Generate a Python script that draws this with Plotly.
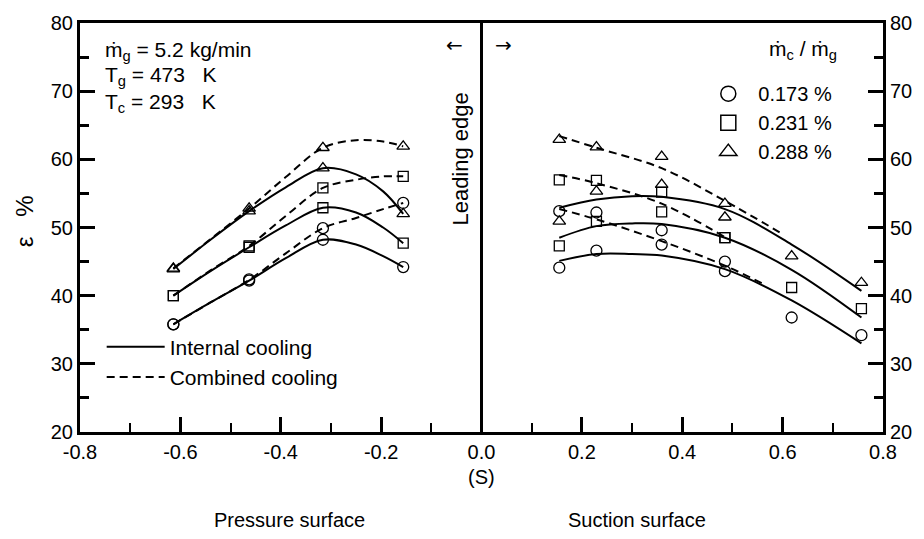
import plotly.graph_objects as go

# ---------------- data ----------------
# measured points, pressure surface
s_pres = [-0.614, -0.463, -0.316, -0.156]
int_p_173 = [35.8, 42.2, 48.2, 44.2]
int_p_231 = [40.0, 47.1, 52.9, 47.7]
int_p_288 = [43.9, 52.4, 58.7, 52.0]
com_p_173 = [35.8, 42.4, 49.9, 53.6]
com_p_231 = [40.0, 47.3, 55.8, 57.5]
com_p_288 = [44.0, 52.8, 61.7, 61.9]

# measured points, suction surface
s_suc = [0.155, 0.229, 0.359, 0.485, 0.618, 0.757]
int_s_173 = [44.1, 46.6, 47.5, 43.6, 36.8, 34.2]
int_s_231 = [47.3, 50.9, 52.3, 48.5, 41.2, 38.1]
int_s_288 = [50.9, 55.3, 56.3, 51.5, 45.8, 41.9]
s_suc_com = [0.155, 0.229, 0.359, 0.485]
com_s_173 = [52.4, 52.2, 49.6, 45.0]
com_s_231 = [57.0, 56.9, 55.2, 48.5]
com_s_288 = [62.9, 61.8, 60.4, 53.5]

# fitted curves, pressure surface
cs_pres = [-0.614, -0.54, -0.463, -0.39, -0.316, -0.25, -0.196, -0.156]
cur_int_p_173 = [35.8, 39.0, 42.2, 45.5, 48.2, 47.5, 45.8, 44.2]
cur_int_p_231 = [40.0, 43.6, 47.1, 50.3, 52.9, 52.2, 50.0, 47.7]
cur_int_p_288 = [43.9, 48.2, 52.4, 55.9, 58.7, 57.8, 55.3, 52.0]
cur_com_p_173 = [35.8, 39.0, 42.3, 46.2, 49.9, 51.4, 52.7, 53.6]
cur_com_p_231 = [40.0, 43.7, 47.3, 51.7, 55.8, 57.0, 57.5, 57.5]
cur_com_p_288 = [44.0, 48.3, 52.8, 57.4, 61.7, 62.8, 62.6, 61.9]

# fitted curves, suction surface
cs_suc_int = [0.155, 0.229, 0.30, 0.359, 0.485, 0.618, 0.757]
cur_int_s_173 = [45.1, 46.1, 46.1, 45.9, 43.9, 39.3, 33.0]
cur_int_s_231 = [48.5, 50.2, 50.6, 50.5, 48.5, 43.8, 36.8]
cur_int_s_288 = [52.9, 54.1, 54.6, 54.5, 52.7, 47.5, 40.7]
cs_suc_com_173 = [0.155, 0.229, 0.359, 0.485, 0.562]
cur_com_s_173 = [52.7, 51.2, 48.0, 44.4, 41.7]
cs_suc_com_231 = [0.155, 0.229, 0.359, 0.485]
cur_com_s_231 = [57.7, 56.5, 53.5, 48.6]
cs_suc_com_288 = [0.155, 0.229, 0.359, 0.485, 0.594]
cur_com_s_288 = [63.4, 61.7, 58.7, 53.9, 49.3]

ratio_labels = ["0.173 %", "0.231 %", "0.288 %"]
y_ticks = [20, 30, 40, 50, 60, 70, 80]
x_ticks = [-0.8, -0.6, -0.4, -0.2, 0.0, 0.2, 0.4, 0.6, 0.8]

# ---------------- styling ----------------
FONT = "Liberation Sans, Arial, sans-serif"
BLACK = "black"
symbols = ["circle-open", "square-open", "triangle-up-open"]
msizes = [11, 10, 11]
DASH = "8px,5px"

fig = go.Figure()

# curves
solid_sets = [
    (cs_pres, cur_int_p_173), (cs_pres, cur_int_p_231), (cs_pres, cur_int_p_288),
    (cs_suc_int, cur_int_s_173), (cs_suc_int, cur_int_s_231), (cs_suc_int, cur_int_s_288),
]
dash_sets = [
    (cs_pres, cur_com_p_173), (cs_pres, cur_com_p_231), (cs_pres, cur_com_p_288),
    (cs_suc_com_173, cur_com_s_173), (cs_suc_com_231, cur_com_s_231),
    (cs_suc_com_288, cur_com_s_288),
]
for i, (xs, ys) in enumerate(solid_sets):
    fig.add_trace(go.Scatter(
        x=xs, y=ys, mode="lines", line=dict(color=BLACK, width=2, shape="spline"),
        name="Internal cooling", showlegend=(i == 0), legend="legend2",
        hoverinfo="skip"))
for i, (xs, ys) in enumerate(dash_sets):
    fig.add_trace(go.Scatter(
        x=xs, y=ys, mode="lines",
        line=dict(color=BLACK, width=2, shape="spline", dash=DASH),
        name="Combined cooling", showlegend=(i == 0), legend="legend2",
        hoverinfo="skip"))

# markers
point_sets = [
    [(s_pres, int_p_173), (s_pres, com_p_173), (s_suc, int_s_173), (s_suc_com, com_s_173)],
    [(s_pres, int_p_231), (s_pres, com_p_231), (s_suc, int_s_231), (s_suc_com, com_s_231)],
    [(s_pres, int_p_288), (s_pres, com_p_288), (s_suc, int_s_288), (s_suc_com, com_s_288)],
]
for k, sets in enumerate(point_sets):
    for xs, ys in sets:
        fig.add_trace(go.Scatter(
            x=xs, y=ys, mode="markers",
            marker=dict(symbol=symbols[k], size=msizes[k], color=BLACK,
                        line=dict(color=BLACK, width=1.3)),
            showlegend=False))
    # legend entry
    fig.add_trace(go.Scatter(
        x=[None], y=[None], mode="markers",
        marker=dict(symbol=symbols[k], size=15, color=BLACK,
                    line=dict(color=BLACK, width=1.5)),
        name=ratio_labels[k], legend="legend"))

# dummy trace for right axis
fig.add_trace(go.Scatter(x=[None], y=[None], yaxis="y2", showlegend=False))

axis_common = dict(showgrid=False, showline=True, linecolor=BLACK, linewidth=3,
                   tickcolor=BLACK, ticks="inside",
                   tickfont=dict(family=FONT, size=20, color=BLACK))

fig.update_layout(
    width=924, height=539,
    margin=dict(l=80, r=41, t=21, b=107),
    paper_bgcolor="white", plot_bgcolor="white",
    font=dict(family=FONT, color=BLACK),
    xaxis=dict(range=[-0.8, 0.8], tickvals=x_ticks,
               ticktext=[f"{v:.1f}" for v in x_ticks], ticklen=15, tickwidth=3,
               mirror=True, zeroline=True, zerolinecolor=BLACK, zerolinewidth=3,
               minor=dict(ticks="inside", dtick=0.1, ticklen=9, tickwidth=2,
                          tickcolor=BLACK, showgrid=False),
               **axis_common),
    yaxis=dict(range=[20, 80], tickvals=y_ticks, ticklen=15, tickwidth=3,
               zeroline=False,
               minor=dict(ticks="inside", dtick=5, ticklen=9, tickwidth=3,
                          tickcolor=BLACK, showgrid=False),
               **axis_common),
    yaxis2=dict(range=[20, 80], tickvals=y_ticks, ticklen=15, tickwidth=3,
                overlaying="y", side="right", matches="y", zeroline=False,
                minor=dict(ticks="inside", dtick=5, ticklen=9, tickwidth=3,
                           tickcolor=BLACK, showgrid=False),
                **axis_common),
    legend=dict(x=0.77, y=0.875, xanchor="left", yanchor="top",
                bgcolor="rgba(0,0,0,0)", font=dict(family=FONT, size=20),
                tracegroupgap=0, itemsizing="trace", itemwidth=50),
    legend2=dict(x=0.027, y=0.258, xanchor="left", yanchor="top",
                 bgcolor="rgba(0,0,0,0)", font=dict(family=FONT, size=21),
                 tracegroupgap=0, itemwidth=58),
)

ann_font = dict(family=FONT, size=21, color=BLACK)
arrow_font = dict(family="DejaVu Sans, sans-serif", size=20, color=BLACK)
annotations = [
    dict(x=-0.755, y=75.9, text="ṁ<sub>g</sub> = 5.2 kg/min", xanchor="left"),
    dict(x=-0.755, y=72.2, text="T<sub>g</sub> = 473\u00a0\u00a0 K", xanchor="left"),
    dict(x=-0.755, y=68.2, text="T<sub>c</sub> = 293\u00a0\u00a0 K", xanchor="left"),
    dict(x=0.64, y=76.0, text="ṁ<sub>c</sub> / ṁ<sub>g</sub>", xanchor="center"),
    dict(x=-0.041, y=60.1, text="Leading edge", textangle=-90, xanchor="center",
         font=dict(family=FONT, size=22, color=BLACK)),
    dict(x=-0.053, y=76.8, text="←", xanchor="center", font=arrow_font),
    dict(x=0.043, y=76.8, text="→", xanchor="center", font=arrow_font),
]
for a in annotations:
    a.setdefault("font", ann_font)
    fig.add_annotation(xref="x", yref="y", showarrow=False, yanchor="middle", **a)

paper_anns = [
    dict(x=-0.068, y=0.516, text="ε\u00a0\u00a0\u00a0%", textangle=-90, size=24),
    dict(x=0.5, y=-0.11, text="(S)", textangle=0, size=20),
    dict(x=0.261, y=-0.214, text="Pressure surface", textangle=0, size=20),
    dict(x=0.694, y=-0.214, text="Suction surface", textangle=0, size=20),
]
for a in paper_anns:
    fig.add_annotation(xref="paper", yref="paper", x=a["x"], y=a["y"], text=a["text"],
                       textangle=a["textangle"], showarrow=False,
                       xanchor="center", yanchor="middle",
                       font=dict(family=FONT, size=a["size"], color=BLACK))

fig.write_html("out.html")
